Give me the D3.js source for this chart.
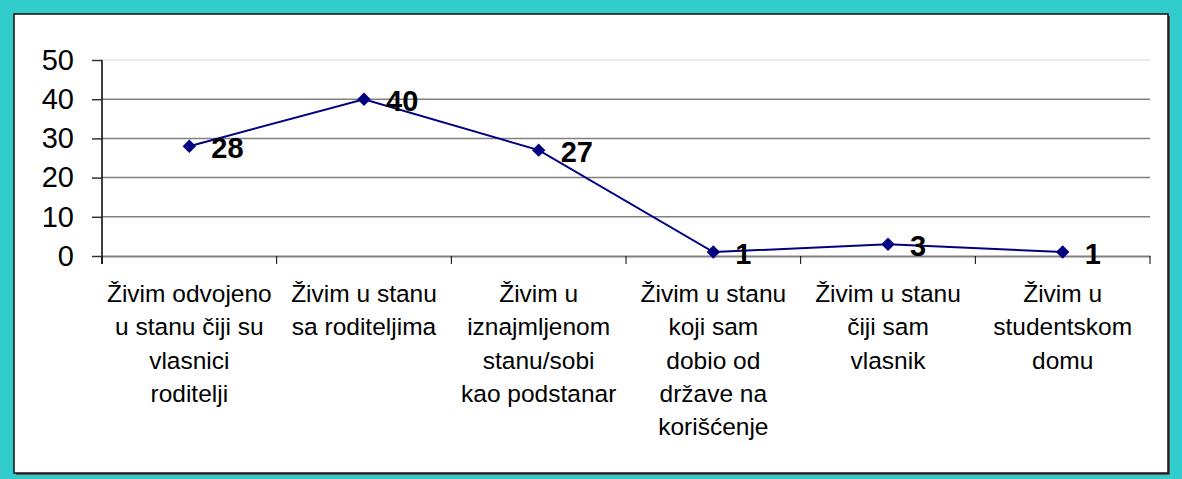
<!DOCTYPE html>
<html>
<head>
<meta charset="utf-8">
<script src="https://cdn.jsdelivr.net/npm/d3@7"></script>
<style>
  html, body { margin: 0; padding: 0; background: #33cccc; }
  svg { display: block; }
</style>
</head>
<body>
<svg id="chart" width="1182" height="479"></svg>
<script>
// chart data
var categories = [
  ['Živim odvojeno', 'u stanu čiji su', 'vlasnici', 'roditelji'],
  ['Živim u stanu', 'sa roditeljima'],
  ['Živim u', 'iznajmljenom', 'stanu/sobi', 'kao podstanar'],
  ['Živim u stanu', 'koji sam', 'dobio od', 'države na', 'korišćenje'],
  ['Živim u stanu', 'čiji sam', 'vlasnik'],
  ['Živim u', 'studentskom', 'domu']
];
var values = [28, 40, 27, 1, 3, 1];
var yTicks = [0, 10, 20, 30, 40, 50];

var svg = d3.select('#chart');
var W = 1182, H = 479;

// teal frame + white panel
svg.append('rect').attr('x', 0).attr('y', 0).attr('width', W).attr('height', H)
  .attr('fill', '#33cccc');
svg.append('rect').attr('x', 16).attr('y', 16).attr('width', 1154).attr('height', 459)
  .attr('fill', '#555');
svg.append('rect').attr('x', 14).attr('y', 14).attr('width', 1154).attr('height', 459)
  .attr('fill', '#fff').attr('stroke', '#111').attr('stroke-width', 1.5);

var plotL = 102, plotR = 1150, plotT = 60, plotB = 256;

var idx = d3.range(categories.length);
var x = d3.scaleBand().domain(idx).range([plotL, plotR]).padding(0);
var y = d3.scaleLinear().domain([0, 50]).range([plotB, plotT]);
var cx = function(i) { return x(i) + x.bandwidth() / 2; };

var g = svg.append('g');

// gridlines
g.selectAll('line.grid').data(yTicks.filter(function(d) { return d > 0; }))
  .enter().append('line')
  .attr('class', 'grid')
  .attr('x1', plotL).attr('x2', plotR)
  .attr('y1', function(d) { return y(d); })
  .attr('y2', function(d) { return y(d); })
  .attr('stroke', function(d) { return d === 50 ? '#e4e4e4' : '#808080'; })
  .attr('stroke-width', 1.5);

// x axis
var xAxis = d3.axisBottom(x).tickSize(0).tickFormat('');
var gx = g.append('g').attr('transform', 'translate(0,' + plotB + ')').call(xAxis);
gx.select('.domain').attr('stroke', '#808080').attr('stroke-width', 2);
// category boundary ticks
var bounds = idx.map(function(i) { return x(i); }).concat([plotR]);
gx.selectAll('line.sep').data(bounds).enter().append('line')
  .attr('class', 'sep')
  .attr('x1', function(d) { return d; }).attr('x2', function(d) { return d; })
  .attr('y1', 0).attr('y2', 8)
  .attr('stroke', '#000').attr('stroke-width', 1);

// y axis
var yAxis = d3.axisLeft(y).tickValues(yTicks).tickSize(10).tickPadding(18);
var gy = g.append('g').attr('transform', 'translate(' + plotL + ',0)').call(yAxis);
gy.select('.domain').attr('d', 'M0,' + plotT + 'V' + (plotB + 8)).attr('stroke', '#000').attr('stroke-width', 1.5);
gy.selectAll('.tick line').attr('stroke', '#333').attr('stroke-width', 1.5);
gy.selectAll('.tick text')
  .attr('font-family', 'Liberation Sans, Arial, sans-serif')
  .attr('font-size', 29).attr('fill', '#000');

// category labels
var labels = g.selectAll('text.cat').data(categories).enter().append('text')
  .attr('class', 'cat')
  .attr('text-anchor', 'middle')
  .attr('font-family', 'Liberation Sans, Arial, sans-serif')
  .attr('font-size', 24.5)
  .attr('fill', '#000');
labels.each(function(lines, i) {
  var t = d3.select(this);
  lines.forEach(function(s, j) {
    t.append('tspan')
      .attr('x', cx(i))
      .attr('y', 302 + j * 33.3)
      .text(s);
  });
});

// line
var line = d3.line()
  .x(function(d, i) { return cx(i); })
  .y(function(d) { return y(d); });
g.append('path').datum(values)
  .attr('d', line)
  .attr('fill', 'none')
  .attr('stroke', '#000080')
  .attr('stroke-width', 2);

// markers
g.selectAll('path.mk').data(values).enter().append('path')
  .attr('class', 'mk')
  .attr('d', d3.symbol().type(d3.symbolSquare).size(90))
  .attr('transform', function(d, i) {
    return 'translate(' + cx(i) + ',' + y(d) + ') rotate(45)';
  })
  .attr('fill', '#000080');

// value labels
g.selectAll('text.val').data(values).enter().append('text')
  .attr('class', 'val')
  .attr('x', function(d, i) { return cx(i) + 22; })
  .attr('y', function(d) { return y(d) + 12; })
  .attr('font-family', 'Liberation Sans, Arial, sans-serif')
  .attr('font-weight', 'bold')
  .attr('font-size', 29)
  .attr('fill', '#000')
  .text(function(d) { return d; });
</script>
</body>
</html>
